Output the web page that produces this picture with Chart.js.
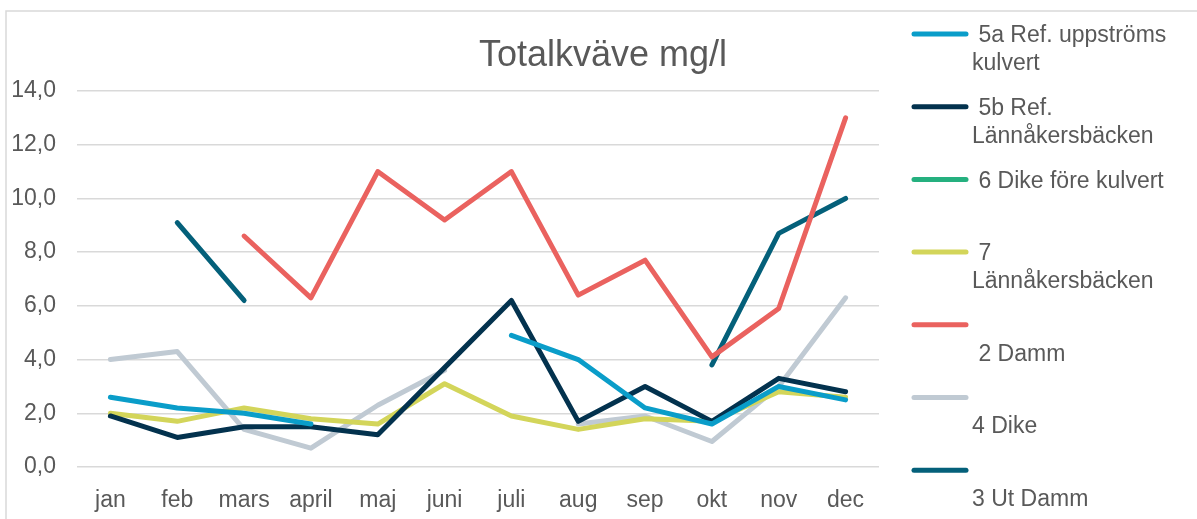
<!DOCTYPE html>
<html>
<head>
<meta charset="utf-8">
<title>Totalkväve mg/l</title>
<script src="https://cdn.jsdelivr.net/npm/chart.js@4"></script>
<style>
  html, body { margin: 0; padding: 0; background: #fff; }
  #wrap { width: 1197px; height: 519px; position: relative; }
</style>
</head>
<body>
<div id="wrap"><canvas id="chart"></canvas></div>
<script>
const chartTitle = 'Totalkväve mg/l';
const months = ['jan', 'feb', 'mars', 'april', 'maj', 'juni', 'juli', 'aug', 'sep', 'okt', 'nov', 'dec'];

const ref5a   = [2.6, 2.2, 2.0, 1.6, null, null, 4.9, 4.0, 2.2, 1.6, 3.0, 2.5];
const ref5b   = [1.9, 1.1, 1.5, 1.5, 1.2, 3.7, 6.2, 1.7, 3.0, 1.7, 3.3, 2.8];
const dike6   = [null, null, null, null, null, null, null, null, null, null, null, null];
const bäck7   = [2.0, 1.7, 2.2, 1.8, 1.6, 3.1, 1.9, 1.4, 1.8, 1.7, 2.8, 2.6];
const damm2   = [null, null, 8.6, 6.3, 11.0, 9.2, 11.0, 6.4, 7.7, 4.1, 5.9, 13.0];
const dike4   = [4.0, 4.3, 1.4, 0.7, 2.3, 3.6, null, 1.6, 1.9, 0.95, 3.0, 6.3];
const utDamm3 = [null, 9.1, 6.2, null, null, null, null, null, null, 3.8, 8.7, 10.0];

// legend texts as Excel wrapped them
const legendLines = [
  [' 5a Ref. uppströms', 'kulvert'],
  [' 5b Ref.', 'Lännåkersbäcken'],
  [' 6 Dike före kulvert'],
  [' 7', 'Lännåkersbäcken'],
  ['', ' 2 Damm'],
  ['', '4 Dike'],
  ['', '3 Ut Damm']
];

const textColor = '#595959';
const gridColor = '#d9d9d9';
const fontFamily = '"Liberation Sans", Arial, sans-serif';

function series(label, data, color) {
  return {
    label,
    data,
    borderColor: color,
    backgroundColor: color,
    borderWidth: 5,
    borderCapStyle: 'round',
    borderJoinStyle: 'round',
    pointRadius: 0,
    pointHoverRadius: 0,
    tension: 0,
    spanGaps: false
  };
}

// frame, title and legend drawn by hand
const decorations = {
  id: 'decorations',
  beforeDraw(chart) {
    const ctx = chart.ctx;
    ctx.save();
    ctx.strokeStyle = gridColor;
    ctx.lineWidth = 1.5;
    ctx.beginPath();
    ctx.moveTo(6, chart.height);
    ctx.lineTo(6, 11);
    ctx.lineTo(chart.width, 11);
    ctx.stroke();
    ctx.restore();
  },
  afterDraw(chart) {
    const ctx = chart.ctx;
    ctx.save();
    ctx.fillStyle = textColor;
    ctx.font = '36px ' + fontFamily;
    ctx.textAlign = 'center';
    ctx.textBaseline = 'alphabetic';
    ctx.fillText(chartTitle, 603, 66);

    ctx.font = '23px ' + fontFamily;
    ctx.textAlign = 'left';
    ctx.textBaseline = 'middle';
    chart.data.datasets.forEach((ds, i) => {
      const y = 34 + i * 72.7;
      ctx.strokeStyle = ds.borderColor;
      ctx.lineWidth = 5;
      ctx.lineCap = 'round';
      ctx.beginPath();
      ctx.moveTo(914, y);
      ctx.lineTo(966, y);
      ctx.stroke();
      legendLines[i].forEach((line, j) => {
        ctx.fillText(line, 972, y + 2 + j * 27.5);
      });
    });
    ctx.restore();
  }
};

const ctx = document.getElementById('chart').getContext('2d');
new Chart(ctx, {
  type: 'line',
  data: {
    labels: months,
    datasets: [
      series('5a Ref. uppströms kulvert', ref5a, '#0a9dc9'),
      series('5b Ref. Lännåkersbäcken', ref5b, '#03324e'),
      series('6 Dike före kulvert', dike6, '#25b07f'),
      series('7 Lännåkersbäcken', bäck7, '#d3d55a'),
      series('2 Damm', damm2, '#ea625f'),
      series('4 Dike', dike4, '#c0cad3'),
      series('3 Ut Damm', utDamm3, '#04607a')
    ]
  },
  options: {
    responsive: true,
    maintainAspectRatio: false,
    animation: false,
    layout: { padding: { top: 91, right: 318, left: 0, bottom: 0 } },
    plugins: {
      legend: { display: false },
      title: { display: false },
      tooltip: { enabled: false }
    },
    scales: {
      x: {
        offset: true,
        grid: { display: false },
        border: { display: false },
        ticks: {
          color: textColor,
          font: { family: fontFamily, size: 23 },
          padding: 12,
          maxRotation: 0,
          autoSkip: false
        },
        afterFit(scale) { scale.height = 52; }
      },
      y: {
        min: 0,
        max: 14,
        grid: { color: gridColor, lineWidth: 1.5, drawTicks: false },
        border: { display: false },
        ticks: {
          stepSize: 2,
          color: textColor,
          font: { family: fontFamily, size: 23 },
          padding: 21,
          callback: (v) => v.toFixed(1).replace('.', ',')
        },
        afterFit(scale) { scale.width = 77; }
      }
    }
  },
  plugins: [decorations]
});
</script>
</body>
</html>
